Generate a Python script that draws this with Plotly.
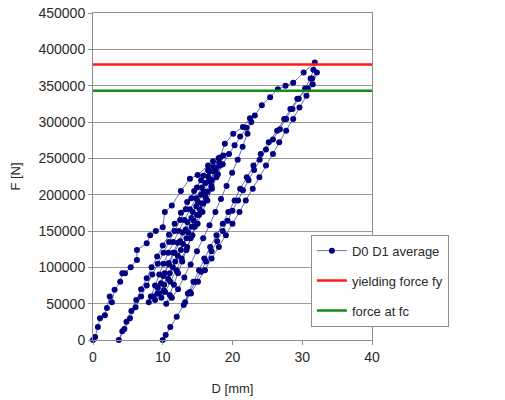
import plotly.graph_objects as go

# ---- data (D in mm, F in N) ----
load1_d = [0, 0.3, 0.7, 1.0, 1.7, 2.0, 2.4, 2.7, 3.1, 3.9, 4.2, 4.6, 5.4, 6.3, 6.3, 7.7, 8.2, 9.0, 10.0, 10.3, 11.3, 12.6, 13.9, 15.0, 16.5]
load1_f = [0, 4000, 18000, 30000, 34000, 44000, 60000, 52000, 69000, 80000, 92000, 92000, 100000, 110000, 124000, 133000, 144000, 150000, 155000, 176000, 185000, 205000, 222000, 227000, 240000]

unload1_d = [15.8, 14.9, 14.1, 13.3, 12.5, 11.7, 10.9, 10.1, 9.3, 8.5, 7.7, 6.9, 6.1, 5.3, 4.5, 3.7]
unload1_f = [226000, 210000, 195000, 180000, 165000, 150000, 135000, 120000, 105000, 90000, 75000, 60000, 45000, 30000, 15000, 0]

reload1_d = [4.2, 4.8, 5.5, 6.2, 6.9, 7.7, 8.4, 9.2, 10.0, 10.9, 11.7, 12.6, 13.5, 14.5, 15.5, 16.5, 17.2]
reload1_f = [12000, 25000, 40000, 55000, 70000, 85000, 100000, 115000, 130000, 145000, 160000, 175000, 190000, 205000, 220000, 234000, 246000]

unload2_d = [16.7, 16.1, 15.5, 14.8, 14.1, 13.3, 12.5, 11.7, 10.9, 10.1, 9.3, 8.6, 8.0]
unload2_f = [232000, 216000, 200000, 184000, 168000, 152000, 136000, 120000, 104000, 88000, 72000, 60000, 52000]

reload2_d = [8.3, 8.9, 9.5, 10.1, 10.8, 11.5, 12.3, 13.1, 13.9, 14.8, 15.6, 16.5, 17.3, 18.0]
reload2_f = [60000, 75000, 90000, 105000, 120000, 135000, 150000, 165000, 180000, 195000, 210000, 225000, 238000, 250000]

unload3_d = [17.55, 16.95, 16.3, 15.6, 14.9, 14.15, 13.4, 12.6, 11.8, 11.0, 10.2, 9.5, 8.9]
unload3_f = [236000, 220000, 204000, 188000, 172000, 156000, 140000, 124000, 108000, 92000, 76000, 64000, 55000]

reload3_d = [9.25, 9.75, 10.25, 10.85, 11.5, 12.15, 12.85, 13.55, 14.3, 15.05, 15.85, 16.65, 17.4, 18.1, 18.7]
reload3_f = [64000, 78000, 92000, 106000, 120000, 134000, 148000, 162000, 176000, 190000, 204000, 218000, 232000, 244000, 254000]

unload4_d = [18.25, 17.7, 17.05, 16.4, 15.7, 15.0, 14.25, 13.5, 12.7, 11.95, 11.1, 10.35, 9.8]
unload4_f = [240000, 224000, 208000, 192000, 176000, 160000, 144000, 128000, 112000, 96000, 80000, 66000, 58000]

reload4_d = [10.15, 10.8, 11.45, 12.15, 12.9, 13.65, 14.45, 15.3, 16.15, 17.0, 17.9, 18.6, 19.5, 20.3, 21.1, 22.0, 22.7]
reload4_f = [68000, 84000, 100000, 116000, 132000, 148000, 164000, 180000, 196000, 212000, 228000, 242000, 256000, 268000, 280000, 292000, 300000]

unload5_d = [22.15, 21.45, 20.75, 19.95, 19.15, 18.35, 17.55, 16.7, 15.8, 14.9, 14.0, 13.1, 12.2, 11.3, 10.5]
unload5_f = [284000, 266000, 248000, 230000, 212000, 194000, 176000, 158000, 140000, 122000, 104000, 86000, 70000, 58000, 50000]

reload5_d = [11.0, 11.6, 12.2, 12.8, 13.4, 14.0, 14.6, 15.2, 15.8, 16.4, 17.0, 17.6, 18.2, 18.9, 20.1, 21.5, 22.5, 23.2, 24.2, 25.4, 26.5, 27.6, 28.7, 30.2, 31.8]
reload5_f = [62000, 76000, 92000, 108000, 124000, 140000, 156000, 172000, 188000, 204000, 220000, 236000, 251000, 270000, 284000, 293000, 305000, 309000, 323000, 334000, 345000, 350000, 354000, 368000, 382000]

unload6_d = [31.6, 31.2, 30.4, 29.5, 28.6, 27.7, 26.8, 25.8, 24.8, 23.9, 23.1, 22.3, 21.5, 20.8, 20.0, 19.3, 18.6, 17.8, 17.0, 16.2, 15.5, 14.7, 13.9, 13.2]
unload6_f = [372000, 360000, 346000, 332000, 318000, 304000, 290000, 276000, 262000, 248000, 234000, 220000, 206000, 192000, 178000, 164000, 150000, 136000, 122000, 108000, 94000, 80000, 66000, 52000]

reload6_d = [13.6, 14.4, 15.2, 15.95, 16.8, 17.7, 18.6, 19.4, 20.3, 21.1, 22.05, 23.0, 24.05, 25.2, 26.4, 27.4, 28.3, 29.3, 30.8, 31.4, 32.1]
reload6_f = [64000, 80000, 96000, 112000, 128000, 144000, 160000, 176000, 192000, 208000, 224000, 240000, 256000, 272000, 288000, 304000, 318000, 332000, 346000, 360000, 368000]

unload7_d = [31.5, 30.6, 29.6, 28.7, 27.7, 26.7, 25.8, 24.8, 23.85, 22.9, 21.9, 21.0, 20.0, 19.05, 18.05, 17.0, 16.05, 15.05, 14.05, 13.0, 12.0, 11.08, 10.42, 10.0]
unload7_f = [352000, 336000, 320000, 304000, 288000, 272000, 256000, 240000, 224000, 208000, 192000, 176000, 160000, 144000, 128000, 112000, 96000, 80000, 64000, 48000, 32000, 18000, 7000, 0]

line_d = [0, 40.7]
yield_force = [379000, 379000]
force_fc = [343000, 343000]

x_ticks = [0, 10, 20, 30, 40]
y_ticks = [0, 50000, 100000, 150000, 200000, 250000, 300000, 350000, 400000, 450000]

segments_d = [load1_d, unload1_d, reload1_d, unload2_d, reload2_d, unload3_d, reload3_d,
              unload4_d, reload4_d, unload5_d, reload5_d, unload6_d, reload6_d, unload7_d]
segments_f = [load1_f, unload1_f, reload1_f, unload2_f, reload2_f, unload3_f, reload3_f,
              unload4_f, reload4_f, unload5_f, reload5_f, unload6_f, reload6_f, unload7_f]

d_all = [v for s in segments_d for v in s]
f_all = [v for s in segments_f for v in s]

FONT = "Liberation Sans, Arial, sans-serif"
TXT = "#2a2a2a"

fig = go.Figure()
fig.add_trace(go.Scatter(
    x=d_all, y=f_all, mode="lines+markers", name="D0 D1 average",
    line=dict(color="rgba(60,60,150,0.75)", width=1),
    marker=dict(color="#000080", size=6, symbol="circle"),
    cliponaxis=False, legendgroup="a"))
fig.add_trace(go.Scatter(
    x=line_d, y=yield_force, mode="lines", name="yielding force fy",
    line=dict(color="#ff1a1a", width=2.5), cliponaxis=False, legendgroup="b"))
fig.add_trace(go.Scatter(
    x=line_d, y=force_fc, mode="lines", name="force at fc",
    line=dict(color="#138a13", width=2.5), cliponaxis=False, legendgroup="c"))

axis_common = dict(showline=True, linecolor="#8c8c8c", linewidth=1, mirror=True,
                   ticks="outside", ticklen=4, tickcolor="#8c8c8c", automargin=False,
                   tickfont=dict(family=FONT, size=14, color=TXT), zeroline=False)

fig.update_xaxes(range=[0, 40], tickvals=x_ticks, showgrid=False,
                 title=dict(text="D [mm]", font=dict(family=FONT, size=13, color=TXT), standoff=20),
                 **axis_common)
fig.update_yaxes(range=[0, 450000], tickvals=y_ticks, tickformat="d",
                 showgrid=True, gridcolor="#9a9a9a", gridwidth=1,
                 title=dict(text="F [N]", font=dict(family=FONT, size=13, color=TXT), standoff=14),
                 **axis_common)

fig.update_layout(
    width=505, height=400,
    margin=dict(l=93, r=133, t=13, b=60, autoexpand=False),
    paper_bgcolor="white", plot_bgcolor="white",
    font=dict(family=FONT, size=13, color=TXT),
    showlegend=True,
    legend=dict(x=0.781, y=0.322, xanchor="left", yanchor="top",
                bgcolor="white", bordercolor="#8c8c8c", borderwidth=1,
                font=dict(family=FONT, size=13, color=TXT),
                tracegroupgap=10, itemwidth=30),
)

fig.write_html("out.html", config={"displayModeBar": False},
               post_script="document.body.style.margin='0';")
